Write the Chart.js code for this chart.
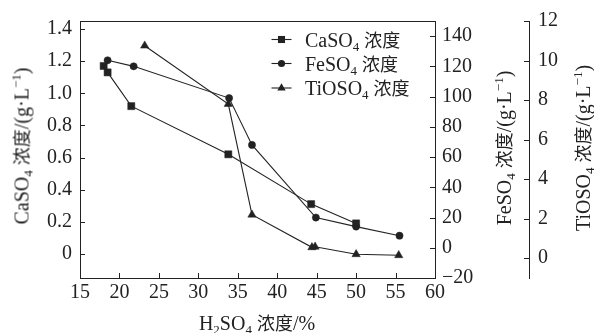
<!DOCTYPE html>
<html><head><meta charset="utf-8">
<script src="https://cdn.jsdelivr.net/npm/chart.js@4/dist/chart.umd.min.js"></script>
<style>
html,body{margin:0;padding:0;background:#fff;}
#wrap{position:relative;width:594px;height:333px;overflow:hidden;font-family:"Liberation Serif","Noto Sans CJK SC",serif;color:#222;}
#wrap canvas{position:absolute;left:0;top:0;}
.t{position:absolute;white-space:nowrap;font-size:20px;line-height:20px;transform:translate(-50%,-50%);}
.r{transform:translate(-50%,-50%) rotate(-90deg);}
sub{font-size:13px;vertical-align:-4px;line-height:0;}
sup{font-size:13px;vertical-align:8px;line-height:0;}
.lg{position:absolute;left:305px;white-space:nowrap;font-size:20px;line-height:20px;transform:translateY(-50%);}
.cjk{font-family:"Noto Sans CJK SC",sans-serif;font-size:18px;}
</style></head>
<body>
<div id="wrap">
<canvas id="c" width="594" height="333"></canvas>
<div class="t r" style="left:21px;top:146px;">CaSO<sub>4</sub> <span class="cjk">浓度</span>/(g·L<sup>−1</sup>)</div>
<div class="t r" style="left:503px;top:148px;">FeSO<sub>4</sub> <span class="cjk">浓度</span>/(g·L<sup>−1</sup>)</div>
<div class="t r" style="left:582px;top:148px;">TiOSO<sub>4</sub> <span class="cjk">浓度</span>/(g·L<sup>−1</sup>)</div>
<div class="t" style="left:257px;top:322px;">H<sub>2</sub>SO<sub>4</sub> <span class="cjk">浓度</span>/%</div>
<div class="lg" style="top:39px;">CaSO<sub>4</sub> <span class="cjk">浓度</span></div>
<div class="lg" style="top:63px;">FeSO<sub>4</sub> <span class="cjk">浓度</span></div>
<div class="lg" style="top:87px;">TiOSO<sub>4</sub> <span class="cjk">浓度</span></div>
</div>
<script>
// ---- data ----
const seriesNames = ["CaSO4 浓度", "FeSO4 浓度", "TiOSO4 浓度"];
const caX = [18.0, 18.5, 21.5, 33.8, 44.3, 50.0];
const caY = [1.17, 1.13, 0.92, 0.62, 0.31, 0.19];
const feX = [18.5, 21.8, 33.9, 36.8, 44.9, 50.0, 55.5];
const feY = [124, 120, 99, 68, 20, 14, 8];
const tiX = [23.2, 33.8, 36.8, 44.4, 44.8, 50.0, 55.4];
const tiY = [10.75, 7.8, 2.2, 0.55, 0.58, 0.2, 0.15];
// ---- tick labels ----
const xTicks = [15, 20, 25, 30, 35, 40, 45, 50, 55, 60];
const caTicks = [0, 0.2, 0.4, 0.6, 0.8, 1.0, 1.2, 1.4];
const feTicks = [-20, 0, 20, 40, 60, 80, 100, 120, 140];
const tiTicks = [0, 2, 4, 6, 8, 10, 12];

const INK = '#222';
const FONT = {family: "'Liberation Serif', serif", size: 20};
const pts = (xs, ys) => xs.map((x, i) => ({x: x, y: ys[i]}));
const setTicks = arr => (s => { s.ticks = arr.map(v => ({value: v})); });
const fmt = v => v < 0 ? '\u2212' + (-v) : String(v);

const styles = [
  {pointStyle: 'rect', r: 5},
  {pointStyle: 'circle', r: 3.6},
  {pointStyle: 'triangle', r: 4.8}
];

function ds(label, data, st, axis) {
  return {
    label: label, data: data, yAxisID: axis,
    borderColor: INK, borderWidth: 1.1, backgroundColor: INK,
    pointStyle: st.pointStyle, pointRadius: st.r, pointBackgroundColor: INK,
    pointBorderColor: INK, pointBorderWidth: 0.5, tension: 0, fill: false
  };
}

function drawMarker(ctx, style, r, x, y) {
  ctx.beginPath();
  if (style === 'rect') {
    const s = r * Math.SQRT1_2;
    ctx.rect(x - s, y - s, 2 * s, 2 * s);
  } else if (style === 'circle') {
    ctx.arc(x, y, r, 0, Math.PI * 2);
  } else {
    ctx.moveTo(x, y - r);
    ctx.lineTo(x + r * Math.sin(Math.PI / 3), y + r / 2);
    ctx.lineTo(x - r * Math.sin(Math.PI / 3), y + r / 2);
    ctx.closePath();
  }
  ctx.fill();
}

const decor = {
  id: 'decor',
  afterDraw(chart) {
    const ctx = chart.ctx, ca = chart.chartArea;
    ctx.save();
    ctx.strokeStyle = INK; ctx.fillStyle = INK; ctx.lineWidth = 1;
    const seg = (a, b, c, d) => { ctx.beginPath(); ctx.moveTo(a, b); ctx.lineTo(c, d); ctx.stroke(); };
    seg(ca.left, ca.top + 0.5, ca.right, ca.top + 0.5);
    const L = 5;
    const sx = chart.scales.x;
    sx.ticks.forEach(t => { const p = Math.round(sx.getPixelForValue(t.value)) + 0.5; seg(p, ca.bottom, p, ca.bottom - L); });
    const sl = chart.scales.yCa;
    sl.ticks.forEach(t => { const p = Math.round(sl.getPixelForValue(t.value)) + 0.5; seg(ca.left, p, ca.left + L, p); });
    const sf = chart.scales.yFe;
    sf.ticks.forEach(t => { const p = Math.round(sf.getPixelForValue(t.value)) + 0.5; seg(ca.right, p, ca.right - L, p); });
    const st = chart.scales.yTi;
    st.ticks.forEach(t => { const p = Math.round(st.getPixelForValue(t.value)) + 0.5; seg(st.left, p, st.left - L, p); });
    // legend markers
    const rows = [39.5, 63.5, 88];
    rows.forEach((y, i) => {
      ctx.lineWidth = 1.1;
      seg(271.5, y, 291.5, y);
      drawMarker(ctx, styles[i].pointStyle, styles[i].r, 281.5, y);
    });
    ctx.restore();
  }
};

new Chart(document.getElementById('c'), {
  type: 'line',
  data: {
    datasets: [
      ds(seriesNames[0], pts(caX, caY), styles[0], 'yCa'),
      ds(seriesNames[1], pts(feX, feY), styles[1], 'yFe'),
      ds(seriesNames[2], pts(tiX, tiY), styles[2], 'yTi')
    ]
  },
  options: {
    responsive: false, animation: false, maintainAspectRatio: false,
    layout: {padding: {top: 15, left: 0, right: 0, bottom: 0}},
    plugins: {legend: {display: false}, tooltip: {enabled: false}},
    scales: {
      x: {
        type: 'linear', position: 'bottom', min: 15, max: 60,
        afterBuildTicks: setTicks(xTicks),
        afterFit: s => { s.height = 55; },
        grid: {drawOnChartArea: false, drawTicks: false},
        border: {display: true, color: INK, width: 1},
        ticks: {padding: 3, font: FONT, color: INK, callback: v => String(v)}
      },
      yCa: {
        type: 'linear', position: 'left', min: -0.15, max: 1.45,
        afterBuildTicks: setTicks(caTicks),
        afterFit: s => { s.width = 80; },
        grid: {drawOnChartArea: false, drawTicks: false},
        border: {display: true, color: INK, width: 1},
        ticks: {padding: 8, font: FONT, color: INK, callback: v => v === 0 ? '0' : v.toFixed(1)}
      },
      yFe: {
        type: 'linear', position: 'right', min: -20, max: 150,
        afterBuildTicks: setTicks(feTicks),
        afterFit: s => { s.width = 94; },
        grid: {drawOnChartArea: false, drawTicks: false},
        border: {display: true, color: INK, width: 1},
        ticks: {padding: 7, font: FONT, color: INK, callback: fmt}
      },
      yTi: {
        type: 'linear', position: 'right', min: -1, max: 12,
        afterBuildTicks: setTicks(tiTicks),
        afterFit: s => { s.width = 65; },
        grid: {drawOnChartArea: false, drawTicks: false},
        border: {display: true, color: INK, width: 1},
        ticks: {padding: 9, font: FONT, color: INK, callback: fmt}
      }
    }
  },
  plugins: [decor]
});
</script>
</body></html>
